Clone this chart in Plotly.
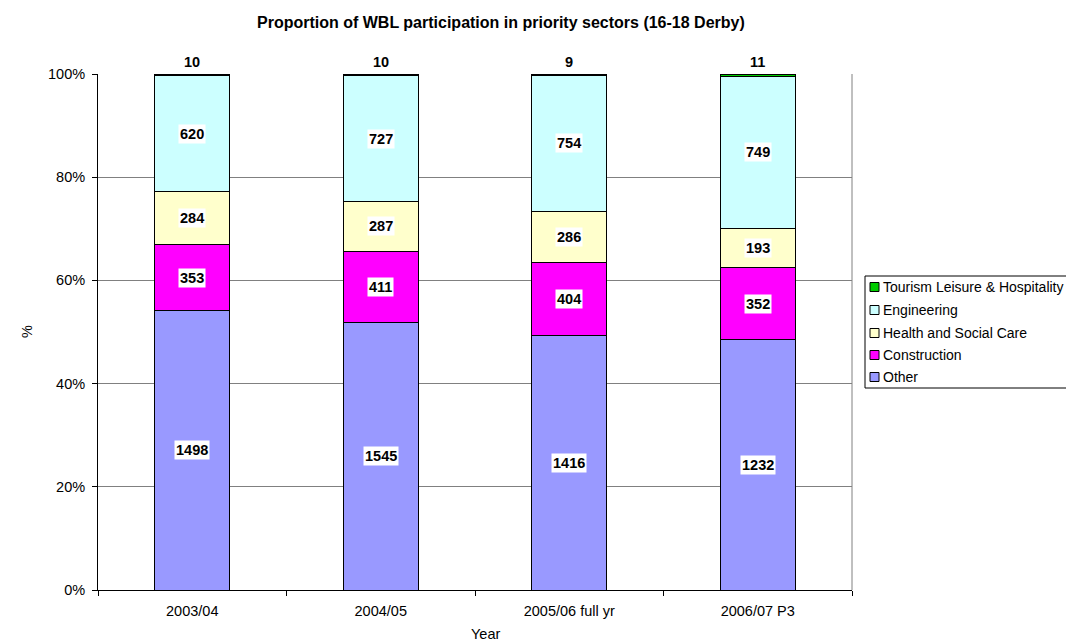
import numpy as np
import plotly.graph_objects as go

years = ["2003/04", "2004/05", "2005/06 full yr", "2006/07 P3"]
other = [1498, 1545, 1416, 1232]
construction = [353, 411, 404, 352]
health = [284, 287, 286, 193]
engineering = [620, 727, 754, 749]
tourism = [10, 10, 9, 11]

series = [
    ("Other", other, "#9999FF"),
    ("Construction", construction, "#FF00FF"),
    ("Health and Social Care", health, "#FFFFCC"),
    ("Engineering", engineering, "#CCFFFF"),
    ("Tourism Leisure & Hospitality", tourism, "#00CC00"),
]

FONT = "Liberation Sans, Arial, Helvetica, sans-serif"

vals = np.array([s[1] for s in series], dtype=float)
totals = vals.sum(axis=0)
pct = vals / totals * 100
cum = np.cumsum(pct, axis=0)
mid = cum - pct / 2

fig = go.Figure()
for name, v, col in series:
    fig.add_trace(go.Bar(
        x=years, y=v, name=name,
        marker=dict(color=col, line=dict(color="black", width=1)),
        hoverinfo="skip", showlegend=False,
    ))

annotations = []
for i, (name, v, col) in enumerate(series):
    for j, yr in enumerate(years):
        top = (i == len(series) - 1)
        annotations.append(dict(
            x=yr, y=100 if top else mid[i, j], xref="x", yref="y",
            text="<b>%d</b>" % v[j], showarrow=False,
            yshift=12 if top else 0, bgcolor="white", borderpad=1,
            font=dict(family=FONT, size=14.5, color="black")))

# title and axis titles
annotations.append(dict(
    x=0.5345, y=1, xref="paper", yref="paper", yshift=52, yanchor="middle",
    text="<b>Proportion of WBL participation in priority sectors (16-18 Derby)</b>",
    showarrow=False, font=dict(family=FONT, size=16, color="black")))
annotations.append(dict(
    x=-0.1074, y=0.5, xref="paper", yref="paper", textangle=-90,
    text="%", showarrow=False, font=dict(family=FONT, size=14.5, color="black")))
annotations.append(dict(
    x=0.5135, y=-0.0853, xref="paper", yref="paper", yanchor="middle",
    text="Year", showarrow=False, font=dict(family=FONT, size=14.5, color="black")))

# manual legend (page px -> paper coords)
def px_x(p):
    return (p - 98) / 754.0

def px_y(p):
    return (590 - p) / 516.0

shapes = [
    dict(type="line", xref="paper", yref="paper", x0=1, x1=1, y0=0, y1=1,
         line=dict(color="#808080", width=1)),
    dict(type="rect", xref="paper", yref="paper",
         x0=px_x(865), x1=px_x(1085), y0=px_y(388), y1=px_y(276),
         line=dict(color="black", width=1), fillcolor="white"),
]
row_y = [287, 310, 333, 355, 377]
for k, (name, v, col) in enumerate(reversed(series)):
    yc = row_y[k]
    shapes.append(dict(type="rect", xref="paper", yref="paper",
                       x0=px_x(870), x1=px_x(879), y0=px_y(yc + 4.5), y1=px_y(yc - 4.5),
                       line=dict(color="black", width=1), fillcolor=col))
    annotations.append(dict(
        x=px_x(881), y=px_y(yc), xref="paper", yref="paper",
        xanchor="left", yanchor="middle", text=name, showarrow=False,
        font=dict(family=FONT, size=14, color="black")))

fig.update_layout(
    barmode="stack", barnorm="percent", bargap=0.6,
    width=1066, height=636,
    margin=dict(l=90, r=222, t=66, b=54, autoexpand=False),
    paper_bgcolor="white", plot_bgcolor="white",
    font=dict(family=FONT, size=14.5, color="black"),
    annotations=annotations,
    shapes=shapes,
    showlegend=False,
)
fig.update_yaxes(
    range=[0, 100], tickvals=[0, 20, 40, 60, 80, 100],
    ticktext=["0%", "20%", "40%", "60%", "80%", "100%"],
    showgrid=True, gridcolor="#808080", gridwidth=1,
    showline=True, linecolor="black", linewidth=1,
    ticks="outside", ticklen=5, tickcolor="black", ticklabelstandoff=4,
    tickfont=dict(family=FONT, size=14.5, color="black"),
    zeroline=False,
)
fig.update_xaxes(
    showline=True, linecolor="black", linewidth=1,
    ticks="outside", ticklen=5, tickcolor="black", tickson="boundaries",
    ticklabelstandoff=8,
    tickfont=dict(family=FONT, size=14.5, color="black"),
)

fig.write_html("out.html")
